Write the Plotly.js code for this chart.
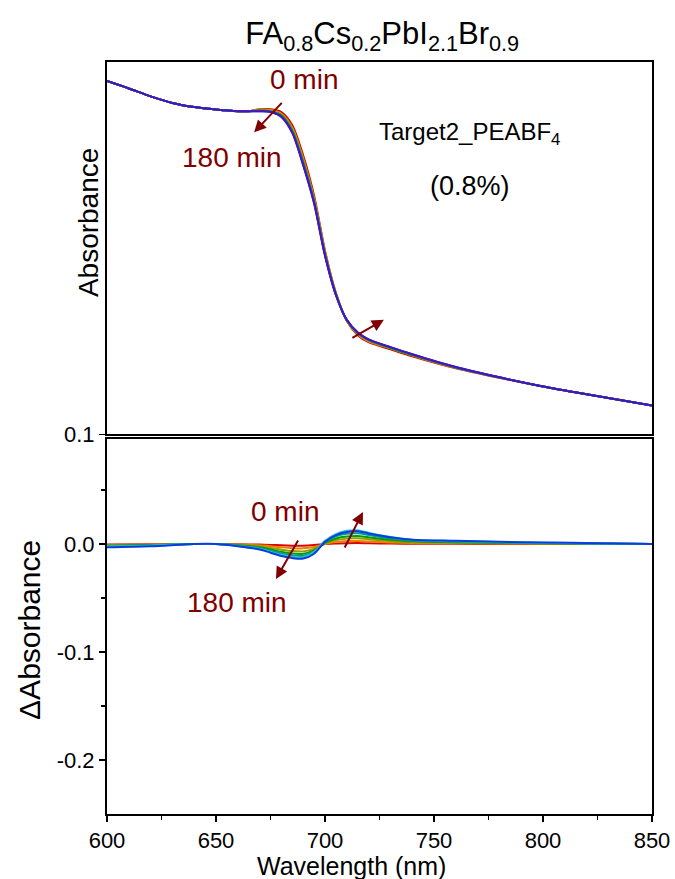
<!DOCTYPE html>
<html>
<head>
<meta charset="utf-8">
<script src="https://cdn.plot.ly/plotly-3.0.1.min.js"></script>
<style>html,body{margin:0;padding:0;background:#fff;}#chart{width:675px;height:879px;}</style>
</head>
<body>
<div id="chart"></div>
<script>
// ---------- Data ----------
const timeLabels = ['0 min', '30 min', '60 min', '90 min', '120 min', '150 min', '180 min'];

// Top panel: absorbance (arbitrary units) vs wavelength
const wavelengthTop = [600, 610, 620, 630, 640, 650, 660, 665, 670, 675, 680, 685, 690, 695, 700, 705, 710, 715, 720, 730, 740, 760, 780, 800, 820, 850];
const abs_0min   = [0.954, 0.936, 0.917, 0.901, 0.891, 0.885, 0.881, 0.881, 0.886, 0.886, 0.879, 0.847, 0.774, 0.677, 0.544, 0.442, 0.374, 0.340, 0.323, 0.306, 0.289, 0.260, 0.237, 0.216, 0.197, 0.170];
const abs_30min  = [0.954, 0.936, 0.917, 0.901, 0.891, 0.885, 0.881, 0.881, 0.885, 0.884, 0.875, 0.841, 0.767, 0.671, 0.540, 0.441, 0.375, 0.342, 0.325, 0.308, 0.291, 0.261, 0.237, 0.216, 0.197, 0.170];
const abs_60min  = [0.954, 0.936, 0.917, 0.901, 0.891, 0.885, 0.881, 0.881, 0.884, 0.883, 0.873, 0.838, 0.762, 0.668, 0.538, 0.440, 0.376, 0.344, 0.327, 0.309, 0.292, 0.262, 0.238, 0.216, 0.197, 0.170];
const abs_90min  = [0.954, 0.936, 0.917, 0.901, 0.891, 0.885, 0.881, 0.881, 0.883, 0.881, 0.871, 0.834, 0.758, 0.664, 0.536, 0.439, 0.376, 0.345, 0.328, 0.309, 0.292, 0.262, 0.238, 0.216, 0.197, 0.170];
const abs_120min = [0.954, 0.936, 0.917, 0.901, 0.891, 0.885, 0.881, 0.881, 0.882, 0.880, 0.869, 0.832, 0.755, 0.662, 0.534, 0.438, 0.376, 0.346, 0.329, 0.310, 0.293, 0.262, 0.238, 0.216, 0.197, 0.170];
const abs_150min = [0.954, 0.936, 0.917, 0.901, 0.891, 0.885, 0.881, 0.881, 0.881, 0.880, 0.868, 0.830, 0.752, 0.660, 0.533, 0.437, 0.377, 0.346, 0.329, 0.311, 0.294, 0.263, 0.238, 0.216, 0.197, 0.170];
const abs_180min = [0.954, 0.936, 0.917, 0.901, 0.891, 0.885, 0.881, 0.881, 0.881, 0.879, 0.867, 0.828, 0.750, 0.658, 0.532, 0.437, 0.377, 0.347, 0.330, 0.311, 0.294, 0.263, 0.238, 0.216, 0.197, 0.170];

// Bottom panel: delta absorbance vs wavelength
const wavelengthDelta = [600, 620, 640, 650, 660, 670, 675, 680, 685, 690, 695, 700, 705, 710, 715, 720, 730, 740, 760, 780, 800, 825, 850];
const dAbs_0min   = [-0.0005, -0.0003, 0.000, 0.000, -0.0002, -0.0005, -0.0008, -0.0012, -0.0015, -0.0016, -0.0010, 0.0000, 0.0006, 0.0008, 0.0009, 0.0007, 0.0004, 0.0003, 0.0002, 0.0001, 0.0001, 0.0000, 0.000];
const dAbs_30min  = [-0.0008, -0.0005, 0.000, 0.000, -0.0005, -0.0012, -0.0020, -0.0030, -0.0038, -0.0040, -0.0028, 0.0000, 0.0018, 0.0027, 0.0029, 0.0024, 0.0015, 0.0010, 0.0007, 0.0005, 0.0003, 0.0002, 0.000];
const dAbs_60min  = [-0.0012, -0.0008, 0.000, 0.000, -0.0009, -0.0022, -0.0036, -0.0052, -0.0065, -0.0068, -0.0045, 0.0005, 0.0036, 0.0050, 0.0053, 0.0045, 0.0029, 0.0018, 0.0012, 0.0008, 0.0005, 0.0003, 0.000];
const dAbs_90min  = [-0.0015, -0.0010, 0.000, 0.000, -0.0012, -0.0030, -0.0050, -0.0072, -0.0088, -0.0090, -0.0058, 0.0012, 0.0052, 0.0070, 0.0074, 0.0062, 0.0040, 0.0025, 0.0017, 0.0012, 0.0008, 0.0004, 0.000];
const dAbs_120min = [-0.0020, -0.0012, 0.000, 0.000, -0.0015, -0.0038, -0.0062, -0.0088, -0.0105, -0.0108, -0.0068, 0.0020, 0.0072, 0.0095, 0.0100, 0.0084, 0.0053, 0.0032, 0.0022, 0.0015, 0.0010, 0.0005, 0.000];
const dAbs_150min = [-0.0020, -0.0015, 0.000, 0.000, -0.0018, -0.0045, -0.0072, -0.0100, -0.0120, -0.0122, -0.0075, 0.0030, 0.0092, 0.0122, 0.0127, 0.0105, 0.0065, 0.0040, 0.0028, 0.0018, 0.0012, 0.0006, 0.000];
const dAbs_180min = [-0.0030, -0.0020, 0.000, 0.000, -0.0020, -0.0050, -0.0080, -0.0110, -0.0130, -0.0135, -0.0090, 0.0020, 0.0082, 0.0112, 0.0118, 0.0098, 0.0062, 0.0040, 0.0030, 0.0020, 0.0015, 0.0008, 0.000];

const xTickVals = [600, 650, 700, 750, 800, 850];
const yDeltaTickVals = [-0.2, -0.1, 0.0];
const yDeltaTickText = ['-0.2', '-0.1', '0.0'];
const yTopTickVals = [0.1];
const yTopTickText = ['0.1'];

// ---------- Styling ----------
const absSeries = [abs_0min, abs_30min, abs_60min, abs_90min, abs_120min, abs_150min, abs_180min];
const dAbsSeries = [dAbs_0min, dAbs_30min, dAbs_60min, dAbs_90min, dAbs_120min, dAbs_150min, dAbs_180min];
const topColors = ['#d00000', '#ff8000', '#a8a000', '#00a000', '#008c8c', '#1040f0', '#4a14b8'];
const botColors = ['#e00000', '#e88000', '#9a9a00', '#00a000', '#009a9a', '#30c0d0', '#0a3ce0'];
const FONT = 'Arial, "Liberation Sans", sans-serif';
const darkRed = '#800000';

const traces = [];
absSeries.forEach((ys, i) => {
  traces.push({
    x: wavelengthTop, y: ys, xaxis: 'x2', yaxis: 'y2', type: 'scatter', mode: 'lines',
    name: timeLabels[i], line: {color: topColors[i], width: 2, shape: 'spline', smoothing: 0.8},
    showlegend: false, hoverinfo: 'skip'
  });
});
dAbsSeries.forEach((ys, i) => {
  traces.push({
    x: wavelengthDelta, y: ys, xaxis: 'x', yaxis: 'y', type: 'scatter', mode: 'lines',
    name: timeLabels[i], line: {color: botColors[i], width: 2, shape: 'spline', smoothing: 0.8},
    showlegend: false, hoverinfo: 'skip'
  });
});

const axisCommon = {
  showline: true, linecolor: '#000', linewidth: 2, mirror: true,
  showgrid: false, zeroline: false,
  tickfont: {family: FONT, size: 22, color: '#000'}
};

const layout = {
  width: 675, height: 879,
  margin: {l: 107, r: 23, t: 62, b: 65},
  paper_bgcolor: '#fff', plot_bgcolor: '#fff',
  font: {family: FONT, color: '#000'},
  showlegend: false,
  title: {
    text: 'FA<sub>0.8</sub>Cs<sub>0.2</sub>PbI<sub>2.1</sub>Br<sub>0.9</sub>',
    font: {family: FONT, size: 31, color: '#000'},
    xref: 'paper', x: 0.505, xanchor: 'center', yref: 'container', y: 0.962, yanchor: 'middle'
  },
  xaxis: Object.assign({}, axisCommon, {
    domain: [0, 1], anchor: 'y', range: [600, 850],
    tickvals: xTickVals, ticks: 'outside', ticklen: 6, tickwidth: 1.5, tickcolor: '#000',
    minor: {dtick: 25, tick0: 600, ticks: 'outside', ticklen: 4, tickwidth: 1.5, tickcolor: '#000'}
  }),
  yaxis: Object.assign({}, axisCommon, {
    domain: [0, 0.4993], anchor: 'x', range: [-0.25, 0.0977],
    tickvals: yDeltaTickVals, ticktext: yDeltaTickText,
    ticks: 'outside', ticklen: 6, tickwidth: 1.5, tickcolor: '#000',
    minor: {tickvals: [-0.15, -0.05, 0.05], ticks: 'outside', ticklen: 4, tickwidth: 1.5, tickcolor: '#000'}
  }),
  xaxis2: Object.assign({}, axisCommon, {
    domain: [0, 1], anchor: 'y2', range: [600, 850], matches: 'x',
    showticklabels: false, ticks: ''
  }),
  yaxis2: Object.assign({}, axisCommon, {
    domain: [0.5047, 1], anchor: 'x2', range: [0.1, 1.0],
    tickvals: yTopTickVals, ticktext: yTopTickText,
    ticks: 'outside', ticklen: 6, tickwidth: 1.5, tickcolor: '#000'
  }),
  annotations: [
    // axis titles
    {xref: 'paper', yref: 'paper', x: 0.448, y: -0.0685, xanchor: 'center', yanchor: 'middle',
     text: 'Wavelength (nm)', showarrow: false, font: {family: FONT, size: 25, color: '#000'}},
    {xref: 'paper', yref: 'paper', x: -0.035, y: 0.787, xanchor: 'center', yanchor: 'middle',
     text: 'Absorbance', textangle: -90, showarrow: false, font: {family: FONT, size: 28, color: '#000'}},
    {xref: 'paper', yref: 'paper', x: -0.141, y: 0.245, xanchor: 'center', yanchor: 'middle',
     text: 'ΔAbsorbance', textangle: -90, showarrow: false, font: {family: FONT, size: 30, color: '#000'}},
    // sample label
    {xref: 'x2', yref: 'y2', x: 766.5, y: 0.828, text: 'Target2_PEABF<sub>4</sub>', showarrow: false,
     font: {family: FONT, size: 24, color: '#000'}},
    {xref: 'x2', yref: 'y2', x: 766.5, y: 0.700, text: '(0.8%)', showarrow: false,
     font: {family: FONT, size: 27, color: '#000'}},
    // top panel labels & arrows
    {xref: 'x2', yref: 'y2', x: 690.5, y: 0.958, text: '0 min', showarrow: false,
     font: {family: FONT, size: 28, color: darkRed}},
    {xref: 'x2', yref: 'y2', x: 657.3, y: 0.769, text: '180 min', showarrow: false,
     font: {family: FONT, size: 28, color: darkRed}},
    {xref: 'x2', yref: 'y2', x: 667.5, y: 0.830, ax: 29, ay: -31, text: '', showarrow: true,
     arrowhead: 2, arrowsize: 1.2, arrowwidth: 2, arrowcolor: darkRed},
    {xref: 'x2', yref: 'y2', x: 727, y: 0.377, ax: -33, ay: 19, text: '', showarrow: true,
     arrowhead: 2, arrowsize: 1.2, arrowwidth: 2, arrowcolor: darkRed},
    // bottom panel labels & arrows
    {xref: 'x', yref: 'y', x: 681.5, y: 0.030, text: '0 min', showarrow: false,
     font: {family: FONT, size: 28, color: darkRed}},
    {xref: 'x', yref: 'y', x: 659.5, y: -0.054, text: '180 min', showarrow: false,
     font: {family: FONT, size: 28, color: darkRed}},
    {xref: 'x', yref: 'y', x: 677.5, y: -0.0324, ax: 23, ay: -40, text: '', showarrow: true,
     arrowhead: 2, arrowsize: 1.2, arrowwidth: 2, arrowcolor: darkRed},
    {xref: 'x', yref: 'y', x: 717.4, y: 0.0296, ax: -19, ay: 37, text: '', showarrow: true,
     arrowhead: 2, arrowsize: 1.2, arrowwidth: 2, arrowcolor: darkRed}
  ]
};

Plotly.newPlot('chart', traces, layout, {staticPlot: true, displayModeBar: false});
</script>
</body>
</html>
